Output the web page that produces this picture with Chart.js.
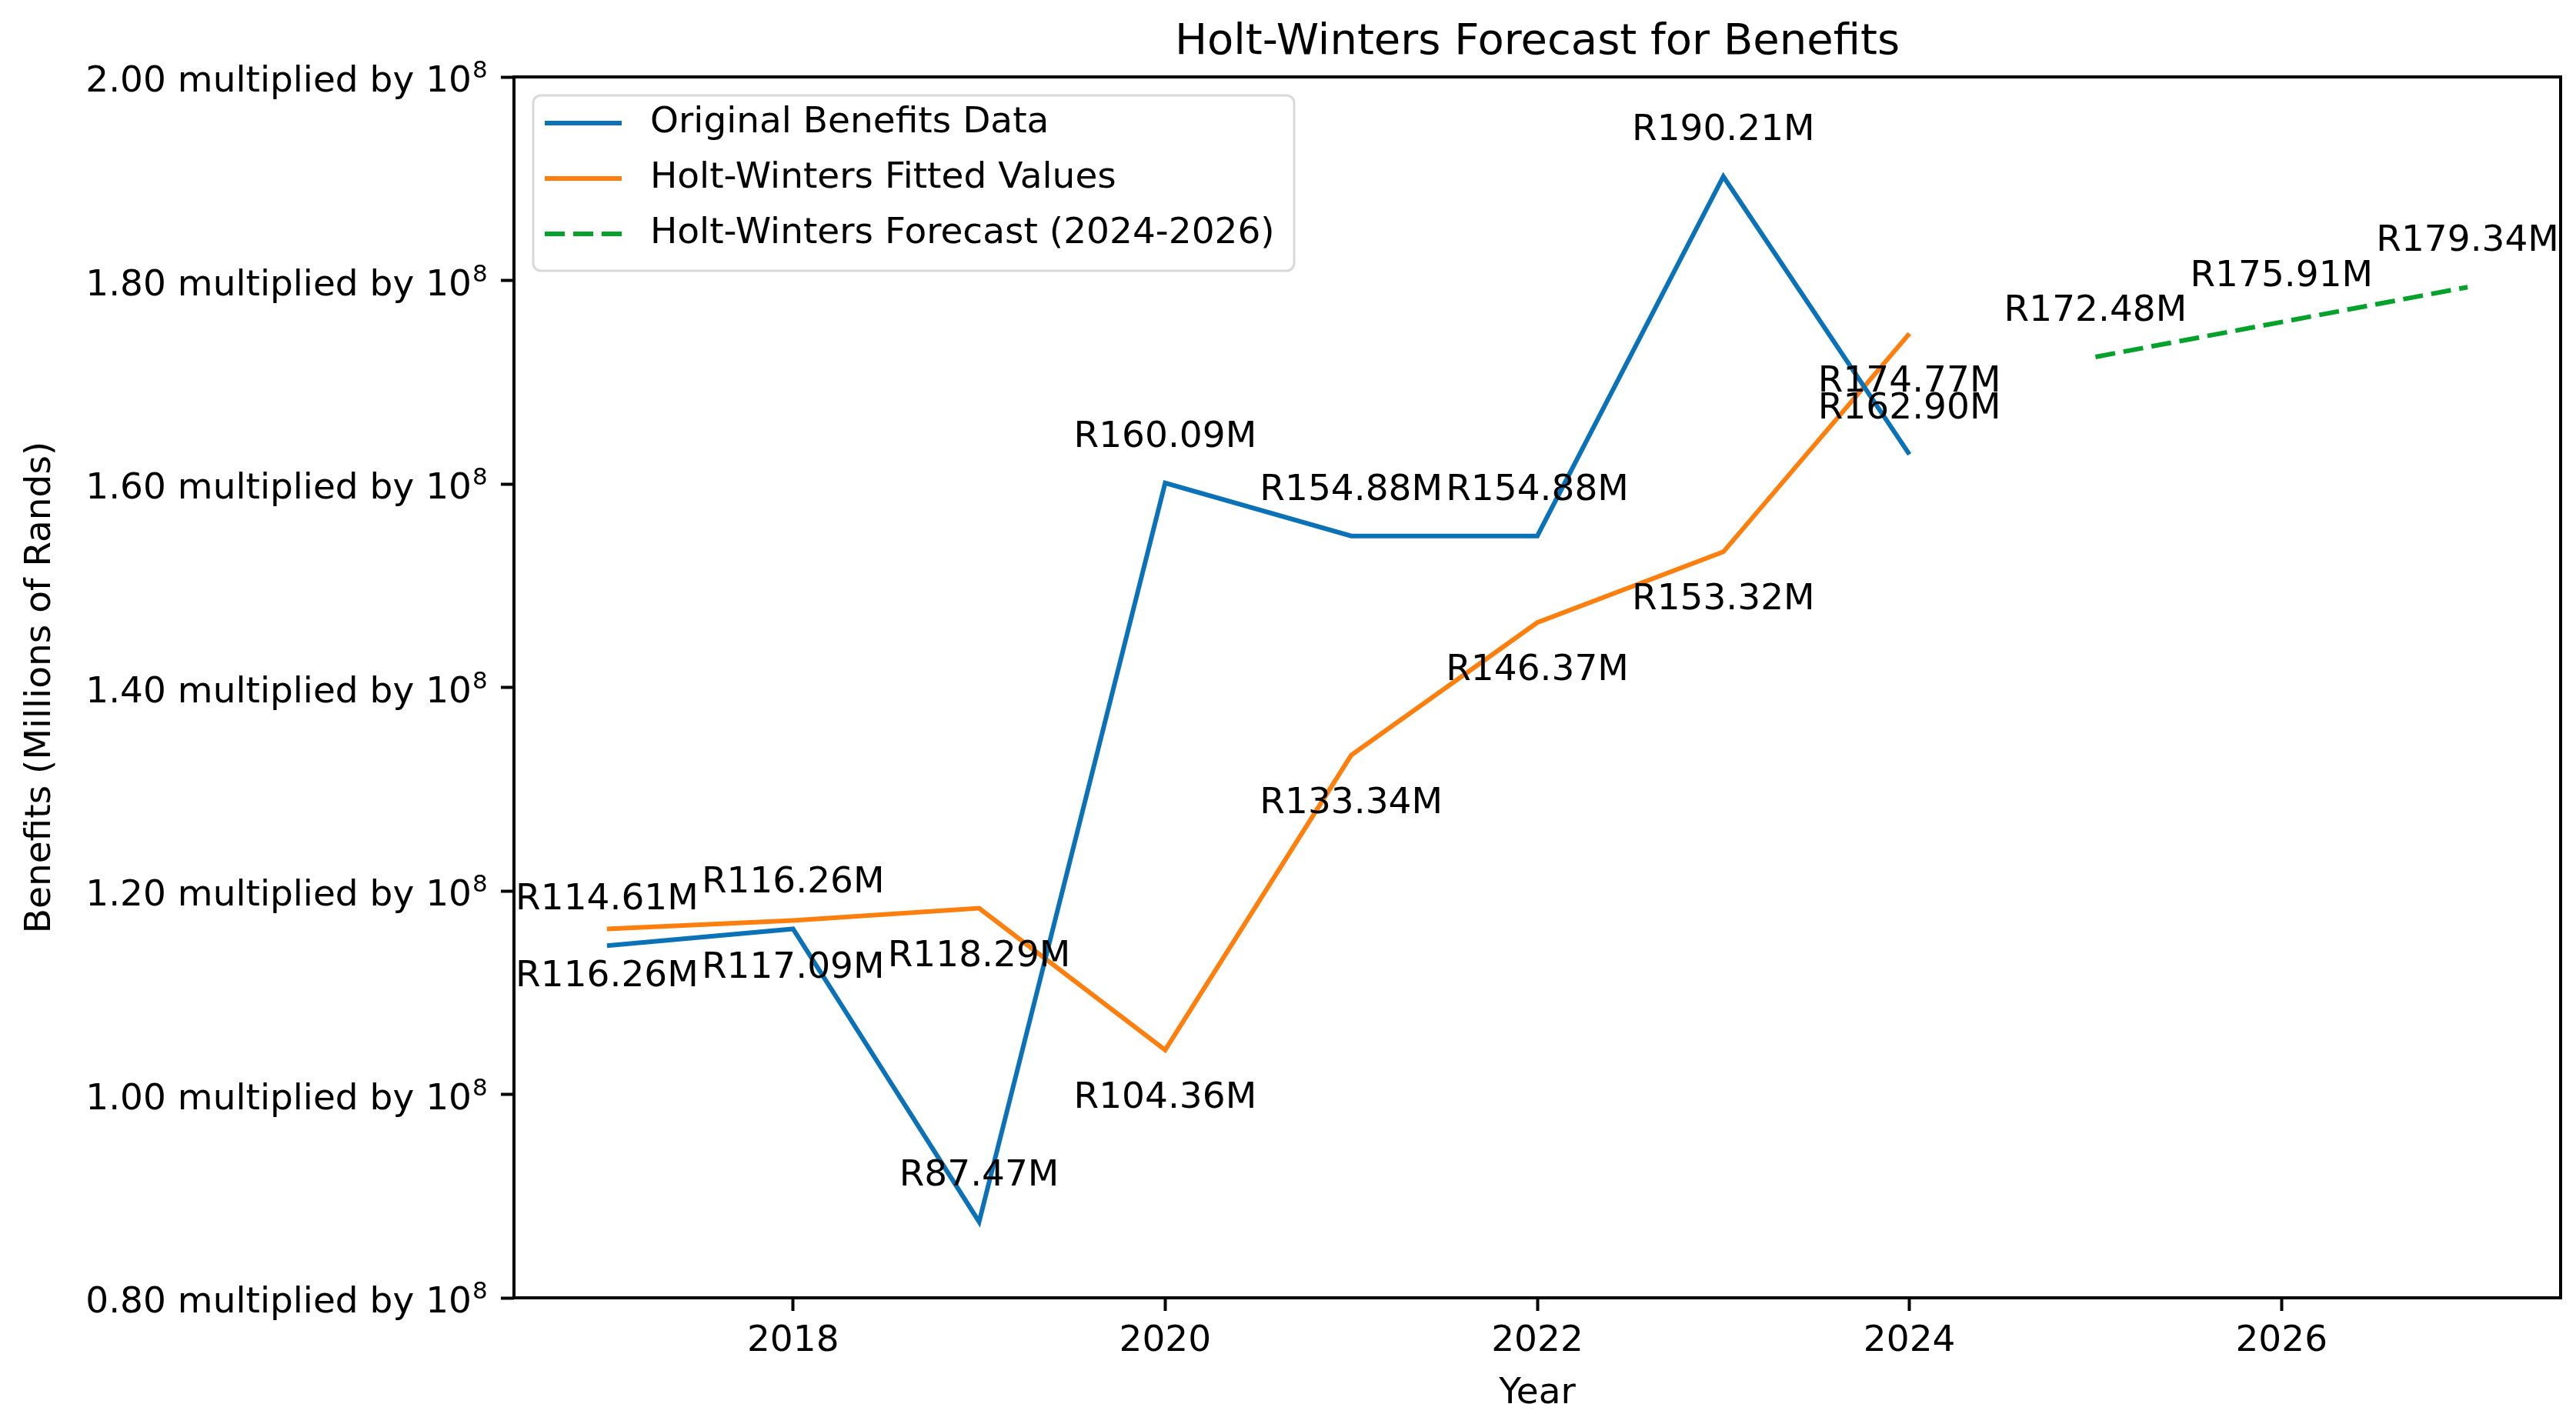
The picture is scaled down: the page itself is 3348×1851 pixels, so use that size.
<!DOCTYPE html>
<html>
<head>
<meta charset="utf-8">
<title>Holt-Winters Forecast for Benefits</title>
<script src="https://cdn.jsdelivr.net/npm/chart.js@4.4.1/dist/chart.umd.min.js"></script>
<style>
    html, body { margin: 0; padding: 0; background: #fff; }
    #wrap { width: 3348px; height: 1851px; position: relative; }
</style>
</head>
<body>
<div id="wrap"><canvas id="hwChart"></canvas></div>
<script>
// Values in millions of Rands
const years = [2017, 2018, 2019, 2020, 2021, 2022, 2023, 2024];
const originalBenefits = [114.61, 116.26, 87.47, 160.09, 154.88, 154.88, 190.21, 162.90];
const fittedValues = [116.26, 117.09, 118.29, 104.36, 133.34, 146.37, 153.32, 174.77];
const forecastYears = [2025, 2026, 2027];
const forecastValues = [172.48, 175.91, 179.34];
const xTicks = [2018, 2020, 2022, 2024, 2026];
const yTicks = [80, 100, 120, 140, 160, 180, 200];

const FONT = 'DejaVu Sans';
const chartTitle = 'Holt-Winters Forecast for Benefits';
Chart.defaults.font.family = FONT;
Chart.defaults.color = '#000';

function toPoints(xs, ys) {
    return xs.map((x, i) => ({ x: x, y: ys[i] }));
}

function moneyLabel(v) {
    return 'R' + v.toFixed(2) + 'M';
}

// Title over the plot area, exponent on tick labels, spines,
// value annotations and the legend box
const decorPlugin = {
    id: 'decor',
    afterDraw(chart) {
        const ctx = chart.ctx;
        const area = chart.chartArea;
        const yScale = chart.scales.y;

        ctx.save();

        // Title centred on the axes, not the canvas
        ctx.font = '56px "' + FONT + '"';
        ctx.fillStyle = '#000';
        ctx.textAlign = 'center';
        ctx.textBaseline = 'alphabetic';
        ctx.fillText(chartTitle, (area.left + area.right) / 2, 70);

        // Superscript 8 after each "10"
        ctx.font = '31px "' + FONT + '"';
        ctx.textAlign = 'left';
        yTicks.forEach(v => {
            const y = yScale.getPixelForValue(v);
            ctx.fillText('8', 614, y + 1);
        });

        ctx.strokeStyle = '#000';
        ctx.lineWidth = 4;
        ctx.strokeRect(area.left, area.top, area.right - area.left, area.bottom - area.top);

        // Point labels: above for data and forecast, below for fitted values
        ctx.font = '47px "' + FONT + '"';
        ctx.textAlign = 'center';
        chart.data.datasets.forEach((ds, i) => {
            const meta = chart.getDatasetMeta(i);
            meta.data.forEach((pt, j) => {
                const dy = ds.labelBelow ? 75 : -47;
                ctx.fillText(moneyLabel(ds.data[j].y), pt.x, pt.y + dy);
            });
        });

        // Legend
        const lx = 693, ly = 124, lw = 989, lh = 228;
        ctx.beginPath();
        ctx.roundRect(lx, ly, lw, lh, 10);
        ctx.fillStyle = 'rgba(255,255,255,0.8)';
        ctx.fill();
        ctx.lineWidth = 3;
        ctx.strokeStyle = '#d9d9d9';
        ctx.stroke();

        ctx.textAlign = 'left';
        ctx.textBaseline = 'middle';
        chart.data.datasets.forEach((ds, i) => {
            const y = 160 + i * 72;
            ctx.beginPath();
            ctx.setLineDash(ds.borderDash || []);
            ctx.lineWidth = ds.borderWidth;
            ctx.strokeStyle = ds.borderColor;
            ctx.moveTo(708, y);
            ctx.lineTo(808, y);
            ctx.stroke();
            ctx.setLineDash([]);
            ctx.fillStyle = '#000';
            ctx.fillText(ds.label, 845, y);
        });
        ctx.restore();
    }
};

const ctx = document.getElementById('hwChart');
new Chart(ctx, {
    type: 'line',
    data: {
        datasets: [
            {
                label: 'Original Benefits Data',
                data: toPoints(years, originalBenefits),
                borderColor: '#0c72b8',
                borderWidth: 6,
                labelBelow: false
            },
            {
                label: 'Holt-Winters Fitted Values',
                data: toPoints(years, fittedValues),
                borderColor: '#ff7f0e',
                borderWidth: 6,
                labelBelow: true
            },
            {
                label: 'Holt-Winters Forecast (2024-2026)',
                data: toPoints(forecastYears, forecastValues),
                borderColor: '#04a12b',
                borderWidth: 6,
                borderDash: [26, 11],
                labelBelow: false
            }
        ]
    },
    options: {
        responsive: true,
        maintainAspectRatio: false,
        animation: false,
        events: [],
        elements: {
            point: { radius: 0 },
            line: { tension: 0, fill: false, borderCapStyle: 'butt' }
        },
        layout: {
            padding: { left: 0, right: 20, top: 100, bottom: 0 }
        },
        plugins: {
            legend: { display: false },
            tooltip: { enabled: false },
            title: { display: false }
        },
        scales: {
            x: {
                type: 'linear',
                position: 'bottom',
                min: 2016.5,
                max: 2027.5,
                afterBuildTicks(scale) {
                    scale.ticks = xTicks.map(v => ({ value: v }));
                },
                afterFit(scale) {
                    scale.height = 164;
                },
                ticks: {
                    color: '#000',
                    font: { size: 47 },
                    padding: 12,
                    maxRotation: 0,
                    callback: (v) => String(v)
                },
                grid: {
                    drawOnChartArea: false,
                    drawTicks: true,
                    tickLength: 17,
                    tickWidth: 4,
                    tickColor: '#000',
                    color: '#000'
                },
                border: { display: false },
                title: {
                    display: true,
                    text: 'Year',
                    color: '#000',
                    font: { size: 47 },
                    padding: { top: 0, bottom: 11 }
                }
            },
            y: {
                type: 'linear',
                position: 'left',
                min: 80,
                max: 200,
                afterBuildTicks(scale) {
                    scale.ticks = yTicks.map(v => ({ value: v }));
                },
                afterFit(scale) {
                    scale.width = 668;
                },
                ticks: {
                    color: '#000',
                    font: { size: 47 },
                    padding: 38,
                    labelOffset: 7,
                    callback: (v) => (v / 100).toFixed(2) + ' multiplied by 10'
                },
                grid: {
                    drawOnChartArea: false,
                    drawTicks: true,
                    tickLength: 17,
                    tickWidth: 4,
                    tickColor: '#000',
                    color: '#000'
                },
                border: { display: false },
                title: {
                    display: true,
                    text: 'Benefits (Millions of Rands)',
                    color: '#000',
                    font: { size: 47 },
                    padding: { top: 25, bottom: 0 }
                }
            }
        }
    },
    plugins: [decorPlugin]
});
</script>
</body>
</html>
